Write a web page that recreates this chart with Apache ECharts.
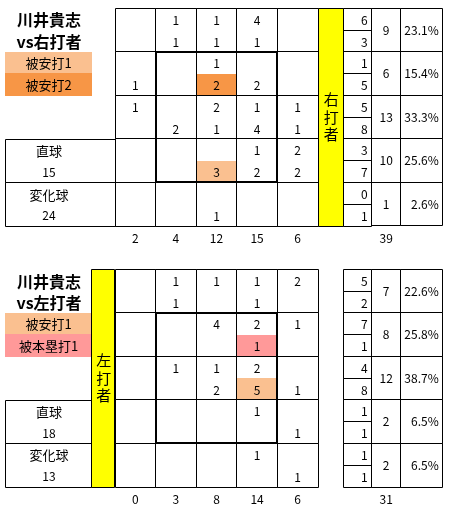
<!DOCTYPE html>
<html><head><meta charset="utf-8">
<script src="https://cdn.jsdelivr.net/npm/echarts@6/dist/echarts.min.js"></script>
<style>html,body{margin:0;padding:0;background:#fff}#c{width:450px;height:513px}</style>
</head><body><div id="c"></div>
<script>
// ---------- DATA ----------
const pitchTypes = ['直球', '変化球'];
const zone = [1, 1, 3, 3]; // colStart,rowStart,colEnd,rowEnd (strike zone cells)

// vs right-handed batters
const rTitle = ['川井貴志', 'vs右打者'];
const rBatter = '右打者';
const rColLabels = ['2', '4', '12', '15', '6'];
const rGrand = ['39'];
const rStraight = [
  [null, 1, 1, 4, null],
  [null, null, 1, null, null],
  [1, null, 2, 1, 1],
  [null, null, null, 1, 2],
  [null, null, null, null, null]
];
const rBreaking = [
  [null, 1, 1, 1, null],
  [1, null, 2, 2, null],
  [null, 2, 1, 4, 1],
  [null, null, 3, 2, 2],
  [null, null, 1, null, null]
];
const rRowStraight = [6, 1, 5, 3, 0];
const rRowBreaking = [3, 5, 8, 7, 1];
const rRowTotal = [9, 6, 13, 10, 1];
const rRowPct = [23.1, 15.4, 33.3, 25.6, 2.6];
const rPitchTotals = [15, 24];
const rHighlights = [[2, 1, 1, 'hit2'], [2, 3, 1, 'hit1']]; // col,row,half,kind
const rLegend = [['被安打1', 'hit1'], ['被安打2', 'hit2']];

// vs left-handed batters
const lTitle = ['川井貴志', 'vs左打者'];
const lBatter = '左打者';
const lColLabels = ['0', '3', '8', '14', '6'];
const lGrand = ['31'];
const lStraight = [
  [null, 1, 1, 1, 2],
  [null, null, 4, 2, 1],
  [null, 1, 1, 2, null],
  [null, null, null, 1, null],
  [null, null, null, 1, null]
];
const lBreaking = [
  [null, 1, null, 1, null],
  [null, null, null, 1, null],
  [null, null, 2, 5, 1],
  [null, null, null, null, 1],
  [null, null, null, null, 1]
];
const lRowStraight = [5, 7, 4, 1, 1];
const lRowBreaking = [2, 1, 8, 1, 1];
const lRowTotal = [7, 8, 12, 2, 2];
const lRowPct = [22.6, 25.8, 38.7, 6.5, 6.5];
const lPitchTotals = [18, 13];
const lHighlights = [[3, 1, 1, 'hr1'], [3, 2, 1, 'hit1']];
const lLegend = [['被安打1', 'hit1'], ['被本塁打1', 'hr1']];

// ---------- STYLE / LAYOUT ----------
const FONT = '"Noto Sans CJK JP","Noto Sans",sans-serif';
const COLORS = { hit1: '#FAC090', hit2: '#F79646', hr1: '#FF9999' };
const KINDS = Object.keys(COLORS);
const subRows = ['0','1','2','3','4','5','6','7','8','9'];
const rows5 = ['0','1','2','3','4'];
const H = 217.7;

const option = { animation: false, backgroundColor: '#fff', grid: [], xAxis: [], yAxis: [], series: [], graphic: [] };

function addGrid(rect, xData, yData, showX) {
  const gi = option.grid.length;
  option.grid.push({ left: rect[0], top: rect[1], width: rect[2], height: rect[3], containLabel: false });
  option.xAxis.push({ type: 'category', gridIndex: gi, data: xData, show: !!showX,
    axisLine: { show: false }, axisTick: { show: false }, splitLine: { show: false },
    axisLabel: { show: !!showX, color: '#000', fontSize: 12, fontFamily: FONT, margin: 6, interval: 0 } });
  option.yAxis.push({ type: 'category', gridIndex: gi, data: yData, inverse: true, show: false });
  return gi;
}
const cr = v => Math.floor(v) + 0.5;
function box(api, x, y, spanY, extraW) {
  const c = api.coord([x, y]), s = api.size([1, 1]);
  const l = c[0] - s[0] / 2, t = c[1] - s[1] / 2;
  return { l: l, t: t, r: l + s[0] + (extraW || 0), b: t + s[1] * (spanY || 1), w: s[0], h: s[1], cx: c[0], cy: c[1] };
}
function strokeRect(b) {
  const x0 = cr(b.l), x1 = cr(b.r), y0 = cr(b.t), y1 = cr(b.b);
  return { type: 'rect', shape: { x: x0, y: y0, width: x1 - x0, height: y1 - y0 }, style: { fill: 'none', stroke: '#000', lineWidth: 1 } };
}
function txt(x, y, t, align, font) {
  return { type: 'text', x: x, y: y, style: { text: String(t), fill: '#000', font: font || ('12px ' + FONT), align: align || 'center', verticalAlign: 'middle' } };
}
function custom(gi, data, renderItem, z) {
  option.series.push({ type: 'custom', xAxisIndex: gi, yAxisIndex: gi, silent: true, z: z, data: data, renderItem: renderItem });
}

function addPanel(d, L) {
  const main = addGrid([115, L.top, 203, H], d.colLabels, subRows, true);
  const split = addGrid([343.3, L.top, 28.4, H], [''], subRows, false);
  const tot = addGrid([371.7, L.top, 29, H], d.grand, rows5, true);
  const pct = addGrid([400.7, L.top, 42, H], [''], rows5, false);
  const bx = addGrid([5, L.boxTop, 88, H * 2 / 5], [''], pitchTypes, false);

  // highlight fills
  custom(main, d.highlights.map(h => [h[0], h[1] * 2 + h[2], KINDS.indexOf(h[3])]), (p, api) => {
    const b = box(api, api.value(0), api.value(1));
    const x0 = Math.round(b.l), x1 = Math.round(b.r), y0 = Math.round(b.t), y1 = Math.round(b.b);
    return { type: 'rect', shape: { x: x0, y: y0, width: x1 - x0, height: y1 - y0 }, style: { fill: COLORS[KINDS[api.value(2)]] } };
  }, 1);
  // cell borders
  const cells = [];
  for (let r = 0; r < 5; r++) for (let c = 0; c < 5; c++) cells.push([c, r * 2]);
  custom(main, cells, (p, api) => strokeRect(box(api, api.value(0), api.value(1), 2)), 2);
  // numbers
  const nums = [];
  for (let r = 0; r < 5; r++) for (let c = 0; c < 5; c++) {
    if (d.straight[r][c] != null) nums.push([c, r * 2, d.straight[r][c]]);
    if (d.breaking[r][c] != null) nums.push([c, r * 2 + 1, d.breaking[r][c]]);
  }
  custom(main, nums, (p, api) => {
    const b = box(api, api.value(0), api.value(1));
    return txt(b.cx, b.cy + 1, api.value(2));
  }, 3);
  // strike zone
  custom(main, [[zone[0], zone[1] * 2, zone[2], zone[3] * 2 + 1]], (p, api) => {
    const a = box(api, api.value(0), api.value(1)), e = box(api, api.value(2), api.value(3));
    const x0 = Math.round(a.l), x1 = Math.round(e.r), y0 = Math.round(a.t), y1 = Math.round(e.b);
    return { type: 'rect', shape: { x: x0, y: y0, width: x1 - x0, height: y1 - y0 }, style: { fill: 'none', stroke: '#000', lineWidth: 2 } };
  }, 4);

  // split column
  const sp = [];
  for (let r = 0; r < 5; r++) { sp.push([0, r * 2, d.rowStraight[r]]); sp.push([0, r * 2 + 1, d.rowBreaking[r]]); }
  custom(split, sp, (p, api) => {
    const b = box(api, 0, api.value(1));
    return { type: 'group', children: [strokeRect(b), txt(b.r - 4, b.cy + 1, api.value(2), 'right')] };
  }, 2);
  // totals
  custom(tot, d.rowTotal.map((v, r) => [0, r, v]), (p, api) => {
    const b = box(api, 0, api.value(1));
    return { type: 'group', children: [strokeRect(b), txt(b.cx, b.cy, api.value(2))] };
  }, 2);
  // percentages
  custom(pct, d.rowPct.map((v, r) => [0, r, v]), (p, api) => {
    const b = box(api, 0, api.value(1));
    return { type: 'group', children: [strokeRect(b), txt(b.r - 4, b.cy, api.value(2).toFixed(1) + '%', 'right')] };
  }, 2);
  // pitch type box
  custom(bx, d.pitchTotals.map((v, i) => [0, i, v]), (p, api) => {
    const i = api.value(1);
    const b = box(api, 0, i, 1, L.boxExtra);
    return { type: 'group', children: [strokeRect(b),
      txt(b.cx, b.t + b.h * 0.27, pitchTypes[i], 'center', '13px ' + FONT),
      txt(b.cx, b.t + b.h * 0.76, api.value(2))] };
  }, 2);

  // titles
  option.graphic.push(txt(49, L.titleY[0], d.title[0], 'center', 'bold 16px ' + FONT));
  option.graphic.push(txt(49, L.titleY[1], d.title[1], 'center', 'bold 16px ' + FONT));
  // legend
  let y = L.legendY;
  d.legend.forEach((lg, i) => {
    const h = L.legendH[i];
    option.graphic.push({ type: 'rect', shape: { x: 5, y: Math.round(y), width: 87, height: Math.round(y + h) - Math.round(y) }, style: { fill: COLORS[lg[1]] } });
    option.graphic.push(txt(48.5, y + h / 2 + 0.5, lg[0], 'center', '13px ' + FONT));
    y += h;
  });
  // batter bar
  option.graphic.push({ type: 'rect', z: 5, shape: { x: cr(L.barX), y: cr(L.top), width: Math.round(L.barW), height: Math.round(H) }, style: { fill: '#FFFF00', stroke: '#000', lineWidth: 1 } });
  option.graphic.push({ type: 'text', z: 6, x: L.barX + L.barW / 2 + 0.5, y: L.top + H / 2, style: { text: d.batter.split('').join('\n'), fill: '#000', font: '15px ' + FONT, lineHeight: 17.5, align: 'center', verticalAlign: 'middle' } });
}

addPanel({ title: rTitle, batter: rBatter, colLabels: rColLabels, grand: rGrand, straight: rStraight, breaking: rBreaking,
  rowStraight: rRowStraight, rowBreaking: rRowBreaking, rowTotal: rRowTotal, rowPct: rRowPct, pitchTotals: rPitchTotals,
  highlights: rHighlights, legend: rLegend },
  { top: 8.3, boxTop: 139.3, boxExtra: 22, titleY: [20, 42], legendY: 52.3, legendH: [21, 22.4], barX: 318, barW: 25.3 });

addPanel({ title: lTitle, batter: lBatter, colLabels: lColLabels, grand: lGrand, straight: lStraight, breaking: lBreaking,
  rowStraight: lRowStraight, rowBreaking: lRowBreaking, rowTotal: lRowTotal, rowPct: lRowPct, pitchTotals: lPitchTotals,
  highlights: lHighlights, legend: lLegend },
  { top: 269.3, boxTop: 400, boxExtra: -1.3, titleY: [281.7, 303.3], legendY: 312.5, legendH: [21.5, 22.5], barX: 91.7, barW: 23.3 });

const chart = echarts.init(document.getElementById('c'));
chart.setOption(option);
</script>
</body></html>
